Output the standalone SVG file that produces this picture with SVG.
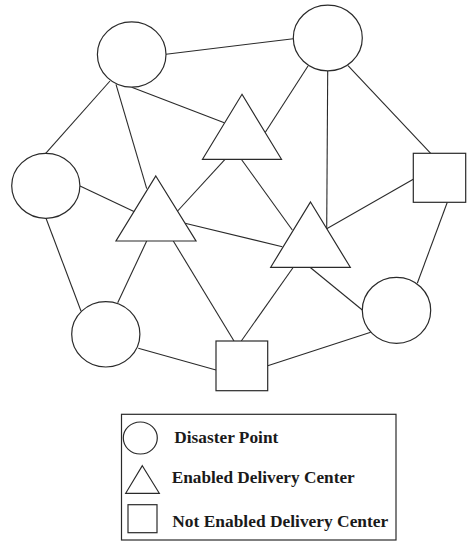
<svg xmlns="http://www.w3.org/2000/svg" width="468" height="542" viewBox="0 0 468 542">
  <style>
    .shape { fill: #ffffff; stroke: #2a2a2a; stroke-width: 1.2; }
    .edge { stroke: #2a2a2a; stroke-width: 1.1; fill: none; }
    .label { font-family: "Liberation Serif", "Times New Roman", serif; font-weight: bold; font-size: 17px; fill: #1a1a1a; }
  </style>
  <rect width="468" height="542" fill="#ffffff"/>

  <!-- connectors -->
  <g id="edges" class="edge">
    <line x1="166" y1="54.3" x2="293.3" y2="38.7"/>
    <line x1="110" y1="81" x2="45.7" y2="153.3"/>
    <line x1="116" y1="84.3" x2="146.7" y2="188.7"/>
    <line x1="131.7" y1="87.3" x2="224.3" y2="122.7"/>
    <line x1="80" y1="186" x2="135" y2="212"/>
    <line x1="46" y1="218.3" x2="81" y2="311"/>
    <line x1="225" y1="159.3" x2="176.7" y2="212"/>
    <line x1="185" y1="223.3" x2="282.3" y2="246.7"/>
    <line x1="308" y1="66" x2="265" y2="132.7"/>
    <line x1="327.7" y1="71" x2="326.7" y2="228.7"/>
    <line x1="348" y1="65.7" x2="430.7" y2="153.3"/>
    <line x1="413.3" y1="179.3" x2="326.7" y2="228.7"/>
    <line x1="447.3" y1="202.3" x2="417.3" y2="283.3"/>
    <line x1="241.3" y1="159.3" x2="292.3" y2="230"/>
    <line x1="146.7" y1="241" x2="117.7" y2="302.7"/>
    <line x1="173.3" y1="241" x2="234" y2="341"/>
    <line x1="293.3" y1="267.3" x2="241.3" y2="341"/>
    <line x1="310" y1="267.3" x2="362.3" y2="310"/>
    <line x1="138.3" y1="348.3" x2="216" y2="370"/>
    <line x1="267.7" y1="365.7" x2="370.7" y2="332.3"/>
  </g>

  <!-- disaster points -->
  <g id="dp-top-left"><ellipse class="shape" cx="131.7" cy="54.5" rx="34.3" ry="32.7"/></g>
  <g id="dp-top-right"><ellipse class="shape" cx="327.8" cy="38" rx="34.5" ry="32.8"/></g>
  <g id="dp-left"><ellipse class="shape" cx="45.8" cy="185.8" rx="34.1" ry="32.5"/></g>
  <g id="dp-bottom-left"><ellipse class="shape" cx="105.8" cy="334.3" rx="34.1" ry="32.7"/></g>
  <g id="dp-bottom-right"><ellipse class="shape" cx="396.5" cy="310.3" rx="34.2" ry="33"/></g>

  <!-- enabled delivery centers -->
  <g id="edc-top"><polygon class="shape" points="242,94.3 281.5,159.3 202.5,159.3"/></g>
  <g id="edc-left"><polygon class="shape" points="155.8,176 196,241 116,241"/></g>
  <g id="edc-right"><polygon class="shape" points="310.5,202 350.3,267.3 270.7,267.3"/></g>

  <!-- not enabled delivery centers -->
  <g id="ndc-right"><rect class="shape" x="413.3" y="153.3" width="52.4" height="49"/></g>
  <g id="ndc-bottom"><rect class="shape" x="216" y="341" width="51.7" height="49.7"/></g>

  <!-- legend -->
  <g id="legend">
    <rect class="shape" x="121.5" y="414.3" width="274.5" height="125.7"/>
    <ellipse class="shape" cx="140.3" cy="438" rx="17" ry="16"/>
    <text class="label" x="174.3" y="442.7" textLength="104" lengthAdjust="spacingAndGlyphs">Disaster Point</text>
    <polygon class="shape" points="142.3,465.7 159.3,493.3 125.7,493.3"/>
    <text class="label" x="171.7" y="483.3" textLength="183" lengthAdjust="spacingAndGlyphs">Enabled Delivery Center</text>
    <rect class="shape" x="128" y="504.7" width="29" height="28"/>
    <text class="label" x="172.3" y="527.3" textLength="216" lengthAdjust="spacingAndGlyphs">Not Enabled Delivery Center</text>
  </g>
</svg>
